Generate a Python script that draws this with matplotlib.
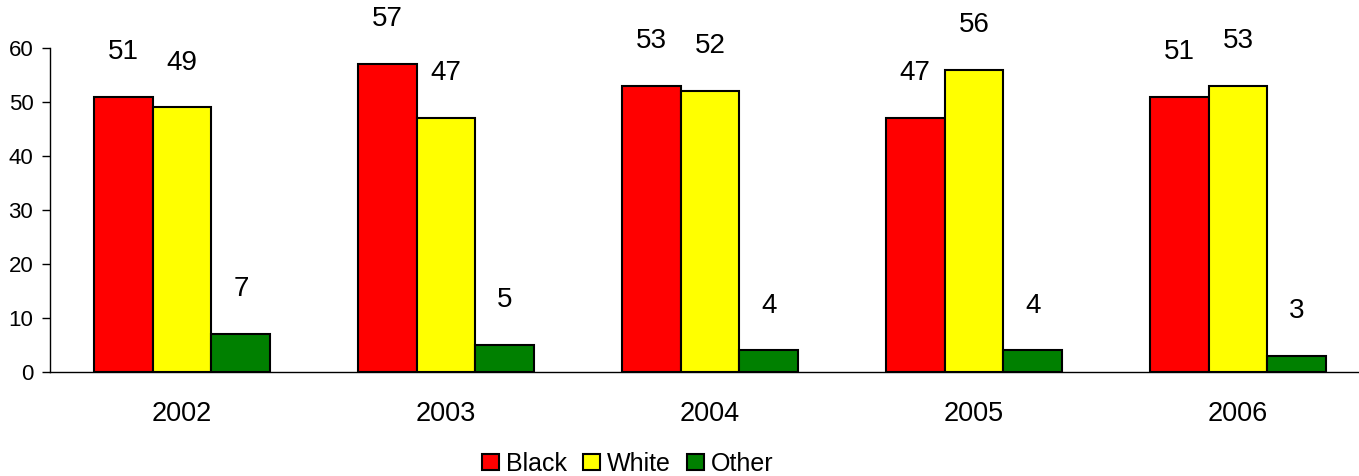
import matplotlib
matplotlib.use("Agg")
import matplotlib.pyplot as plt
import numpy as np

plt.rcParams['font.family'] = ['Liberation Sans', 'DejaVu Sans']

years = ["2002", "2003", "2004", "2005", "2006"]
black = [51, 57, 53, 47, 51]
white = [49, 47, 52, 56, 53]
other = [7, 5, 4, 4, 3]
series_names = ["Black", "White", "Other"]
colors = ["#FF0000", "#FFFF00", "#008000"]

fig = plt.figure(figsize=(13.59, 4.76), dpi=100)
ax = fig.add_axes([50/1359, 1-372/476, 1320/1359, 324/476])

x = np.arange(len(years))
w = 0.223
for i, (vals, name, c) in enumerate(zip([black, white, other], series_names, colors)):
    pos = x + (i - 1) * w
    ax.bar(pos, vals, width=w, color=c, edgecolor="black", linewidth=1.5, label=name, zorder=3)
    for p, v in zip(pos, vals):
        ax.text(p, v + 8.3, str(v), ha="center", va="center", fontsize=20)

ax.set_xlim(-0.5, 4.5)
ax.set_ylim(0, 60)
ax.set_yticks(range(0, 61, 10))
ax.set_xticks(x)
ax.set_xticklabels(years)
ax.tick_params(axis="y", length=6, width=1, pad=6, labelsize=16)
ax.tick_params(axis="x", length=0, pad=21, labelsize=19.5)
for s in ["top", "right"]:
    ax.spines[s].set_visible(False)
ax.spines["left"].set_linewidth(1)
ax.spines["bottom"].set_linewidth(1)

leg = fig.legend(loc="center", bbox_to_anchor=(628/1359, 1-464/476), ncol=3, frameon=False,
                 fontsize=18, handlelength=0.68, handleheight=0.6, handletextpad=0.28,
                 columnspacing=0.64, borderpad=0)
for h in leg.legend_handles:
    h.set_linewidth(1.5)
fig.savefig("out.png", dpi=100)
